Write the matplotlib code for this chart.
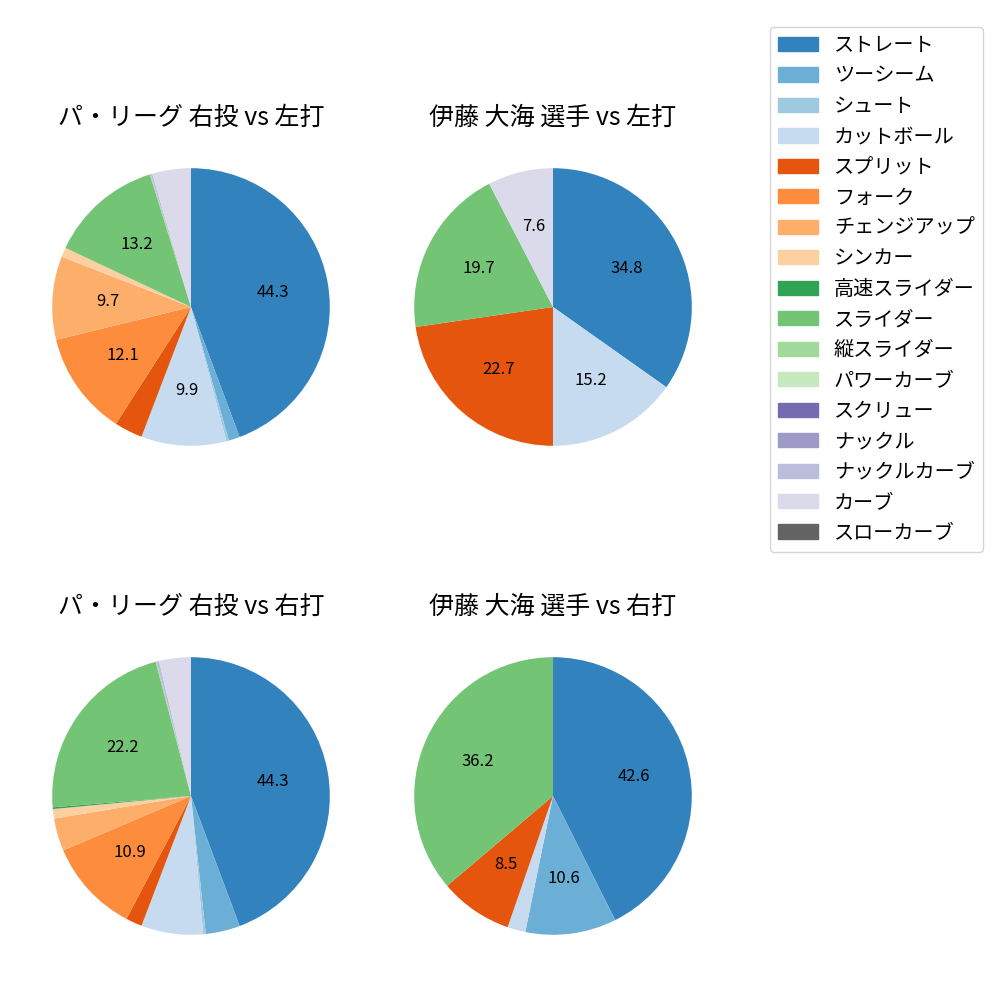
import matplotlib.pyplot as plt
import matplotlib.patches as mpatches
import numpy as np

plt.rcParams['font.family'] = ['Noto Sans CJK JP', 'DejaVu Sans']

pitch_types = [
    "ストレート", "ツーシーム", "シュート", "カットボール", "スプリット",
    "フォーク", "チェンジアップ", "シンカー", "高速スライダー", "スライダー",
    "縦スライダー", "パワーカーブ", "スクリュー", "ナックル", "ナックルカーブ",
    "カーブ", "スローカーブ",
]

# percentages per pitch type, same order as pitch_types
league_vs_left = [44.3, 1.3, 0.3, 9.9, 3.3, 12.1, 9.7, 1.1, 0.0, 13.2,
                  0.1, 0.0, 0.0, 0.0, 0.2, 4.5, 0.0]
ito_vs_left = [34.8, 0.0, 0.0, 15.2, 22.7, 0.0, 0.0, 0.0, 0.0, 19.7,
               0.0, 0.0, 0.0, 0.0, 0.0, 7.6, 0.0]
league_vs_right = [44.3, 4.0, 0.3, 7.2, 1.9, 10.9, 3.8, 1.1, 0.2, 22.2,
                   0.1, 0.0, 0.0, 0.0, 0.3, 3.7, 0.0]
ito_vs_right = [42.6, 10.6, 0.0, 2.1, 8.5, 0.0, 0.0, 0.0, 0.0, 36.2,
                0.0, 0.0, 0.0, 0.0, 0.0, 0.0, 0.0]

titles = [
    "パ・リーグ 右投 vs 左打", "伊藤 大海 選手 vs 左打",
    "パ・リーグ 右投 vs 右打", "伊藤 大海 選手 vs 右打",
]
series = [league_vs_left, ito_vs_left, league_vs_right, ito_vs_right]

colors = plt.get_cmap("tab20c")(np.arange(len(pitch_types)))

fig = plt.figure(figsize=(10, 10), dpi=100)
size = 0.347
centers = [(0.191, 0.693), (0.553, 0.693), (0.191, 0.204), (0.553, 0.204)]

for (cx, cy), title, vals in zip(centers, titles, series):
    ax = fig.add_axes([cx - size / 2, cy - size / 2, size, size])
    ax.pie(vals, colors=colors, startangle=90, counterclock=False,
           autopct=lambda p: f"{p:.1f}" if p >= 7.5 else "",
           textprops={"fontsize": 12})
    ax.set_title(title, fontsize=18)

handles = [mpatches.Patch(color=c, label=n) for c, n in zip(colors, pitch_types)]
fig.legend(handles=handles, loc="upper right", bbox_to_anchor=(0.993, 0.983),
           fontsize=14.5, handlelength=2.0, labelspacing=0.47)

fig.savefig("out.png")
